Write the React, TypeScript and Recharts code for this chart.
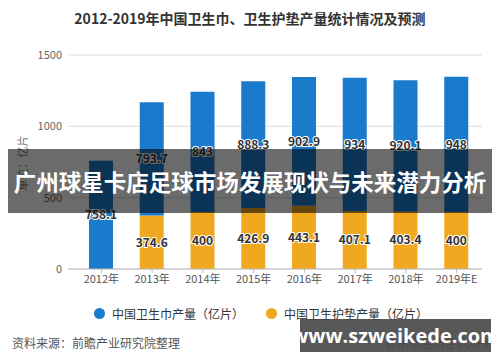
import { BarChart, Bar, XAxis, YAxis, CartesianGrid, LabelList } from "recharts";

const years = ["2012年", "2013年", "2014年", "2015年", "2016年", "2017年", "2018年", "2019年E"];
const padValues = [null, 374.6, 400, 426.9, 443.1, 407.1, 403.4, 400];
const napkinValues = [758.1, 793.7, 843, 888.3, 902.9, 934, 920.1, 948];
const yTicks = [0, 500, 1000, 1500];

const data = years.map((y, i) => ({ year: y, pad: padValues[i], napkin: napkinValues[i] }));

const FONT = "'Noto Sans CJK SC', 'Noto Sans', sans-serif";
const BLUE = "#1a7acb";
const ORANGE = "#f0a820";

const labelStyle = {
  fill: "#333",
  fontSize: 12,
  fontWeight: 700,
  stroke: "#fff",
  strokeWidth: 2,
  paintOrder: "stroke",
} as const;

export default function App() {
  return (
    <div
      style={{
        position: "absolute",
        left: 0,
        top: 0,
        width: 500,
        height: 362,
        background: "#fff",
        fontFamily: FONT,
        overflow: "hidden",
      }}
    >
      <div
        style={{
          position: "absolute",
          top: 8,
          width: 500,
          textAlign: "center",
          fontSize: 14,
          fontWeight: 700,
          color: "#333",
        }}
      >
        2012-2019年中国卫生巾、卫生护垫产量统计情况及预测
      </div>
      <div
        style={{
          position: "absolute",
          left: 22,
          top: 163,
          transform: "translate(-50%, -50%) rotate(-90deg)",
          fontSize: 11,
          color: "#777",
          whiteSpace: "nowrap",
        }}
      >
        单位：亿片
      </div>
      <div style={{ position: "absolute", left: 0, top: 0 }}>
        <BarChart width={500} height={290} data={data} margin={{ top: 55, right: 18, left: 0, bottom: 0 }} barSize={24}>
          <CartesianGrid vertical={false} stroke="#ddd" />
          <XAxis
            dataKey="year"
            height={21}
            padding={{ left: 8, right: 0 }}
            stroke="#bbb"
            tickSize={4}
            tickMargin={2}
            tick={{ fontSize: 11, fill: "#555", fontFamily: FONT }}
          />
          <YAxis
            width={68}
            domain={[0, 1500]}
            ticks={yTicks}
            axisLine={false}
            tickLine={false}
            tickSize={0}
            tickMargin={6}
            tick={{ fontSize: 11, fill: "#666", fontFamily: FONT }}
          />
          <Bar dataKey="pad" stackId="a" fill={ORANGE} isAnimationActive={false}>
            <LabelList dataKey="pad" position="center" style={labelStyle} />
          </Bar>
          <Bar dataKey="napkin" stackId="a" fill={BLUE} isAnimationActive={false}>
            <LabelList dataKey="napkin" position="center" style={labelStyle} />
          </Bar>
        </BarChart>
      </div>
      <div
        style={{
          position: "absolute",
          top: 305,
          left: 94,
          display: "flex",
          alignItems: "center",
          fontSize: 12,
          color: "#333",
          whiteSpace: "nowrap",
        }}
      >
        <span style={{ width: 11, height: 11, borderRadius: 6, background: BLUE, marginRight: 7 }} />
        <span>中国卫生巾产量（亿片）</span>
        <span style={{ width: 11, height: 11, borderRadius: 6, background: ORANGE, marginLeft: 22, marginRight: 7 }} />
        <span>中国卫生护垫产量（亿片）</span>
      </div>
      <div style={{ position: "absolute", left: 12, top: 334, fontSize: 12, color: "#555" }}>
        资料来源：前瞻产业研究院整理
      </div>
      <div style={{ position: "absolute", left: 386, top: 334, fontSize: 12, color: "#666", whiteSpace: "nowrap" }}>
        @前瞻经济学人APP
      </div>
      <div
        style={{
          position: "absolute",
          left: 8,
          top: 149,
          width: 484,
          height: 64,
          background: "rgba(0,0,0,0.58)",
          color: "#fff",
          fontSize: 22.5,
          fontWeight: 700,
          display: "flex",
          alignItems: "center",
          justifyContent: "center",
          whiteSpace: "nowrap",
        }}
      >
        广州球星卡店足球市场发展现状与未来潜力分析
      </div>
      <div
        style={{
          position: "absolute",
          left: 300,
          top: 319,
          width: 191,
          height: 33,
          background: "rgba(70,70,70,0.9)",
          color: "#fff",
          fontSize: 20,
          fontWeight: 700,
          fontFamily: "'Open Sans', sans-serif",
          display: "flex",
          alignItems: "center",
          justifyContent: "center",
          whiteSpace: "nowrap",
        }}
      >
        www.szweikede.com
      </div>
    </div>
  );
}
